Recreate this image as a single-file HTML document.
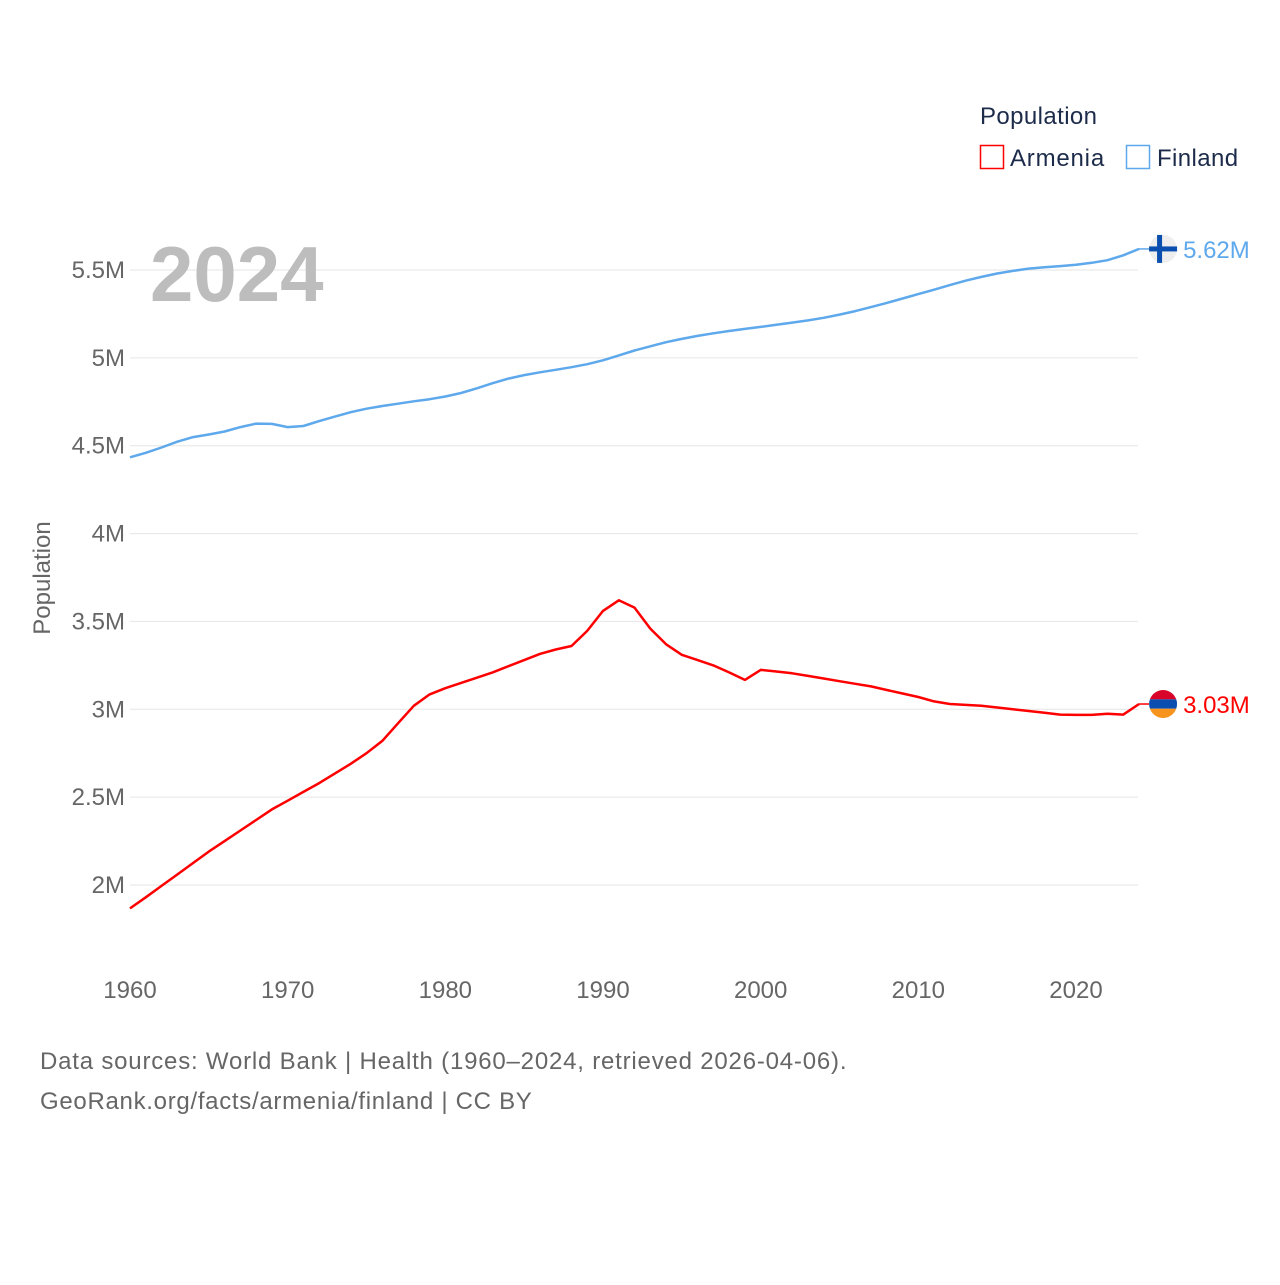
<!DOCTYPE html>
<html><head><meta charset="utf-8"><style>
html,body{margin:0;padding:0;background:#fff;}
svg text{font-family:"Liberation Sans",sans-serif;}
</style></head><body>
<svg id="chart" width="1280" height="1280" xmlns="http://www.w3.org/2000/svg">
<g id="grid"></g>
<g id="yticks"></g>
<g id="xticks"></g>
<text x="150" y="301" font-size="78" font-weight="bold" fill="#bdbdbd">2024</text>
<text transform="translate(50,578) rotate(-90)" text-anchor="middle" font-size="24" fill="#666">Population</text>
<g id="series"></g>
<g>
<text x="980" y="124" font-size="24" fill="#1c2b4a" letter-spacing="0.4">Population</text>
<rect x="980.5" y="145.5" width="23" height="23" fill="none" stroke="#ff0000" stroke-width="1.5"/>
<text x="1010" y="166" font-size="24" fill="#1c2b4a" letter-spacing="0.8">Armenia</text>
<rect x="1126.5" y="145.5" width="23" height="23" fill="none" stroke="#5ea8ec" stroke-width="1.5"/>
<text x="1157" y="166" font-size="24" fill="#1c2b4a" letter-spacing="0.4">Finland</text>
</g>
<text x="40" y="1069" font-size="24" fill="#666" letter-spacing="0.8">Data sources: World Bank | Health (1960–2024, retrieved 2026-04-06).</text>
<text x="40" y="1109" font-size="24" fill="#666" letter-spacing="0.7">GeoRank.org/facts/armenia/finland | CC BY</text>
</svg>
<script>
const years = [];
for (let y = 1960; y <= 2024; y++) years.push(y);
const armenia = [1.867,1.93,1.995,2.06,2.125,2.19,2.25,2.31,2.37,2.43,2.48,2.53,2.58,2.635,2.69,2.75,2.82,2.92,3.02,3.085,3.12,3.15,3.18,3.21,3.245,3.28,3.315,3.34,3.36,3.446,3.56,3.62,3.579,3.459,3.37,3.31,3.28,3.25,3.21,3.167,3.224,3.215,3.205,3.19,3.175,3.16,3.145,3.13,3.11,3.09,3.07,3.045,3.03,3.025,3.02,3.01,3.0,2.99,2.98,2.97,2.968,2.968,2.975,2.97,3.03];
const finland = [4.434,4.46,4.49,4.523,4.549,4.564,4.581,4.606,4.626,4.624,4.606,4.612,4.64,4.666,4.691,4.711,4.726,4.739,4.753,4.765,4.78,4.8,4.827,4.856,4.882,4.902,4.918,4.932,4.947,4.964,4.986,5.014,5.042,5.066,5.089,5.108,5.125,5.14,5.153,5.165,5.176,5.188,5.201,5.213,5.228,5.246,5.266,5.289,5.313,5.338,5.363,5.388,5.414,5.439,5.461,5.48,5.495,5.508,5.516,5.522,5.53,5.541,5.556,5.584,5.62];
const yTickValues = [2,2.5,3,3.5,4,4.5,5,5.5];
const yTickLabels = ["2M","2.5M","3M","3.5M","4M","4.5M","5M","5.5M"];
const xTickValues = [1960,1970,1980,1990,2000,2010,2020];
const endLabels = ["3.03M","5.62M"];

const NS = "http://www.w3.org/2000/svg";
const xScale = yr => 130 + (yr - 1960) * (946 / 60);
const yScale = v => 885 - (v - 2) * 175.71;
function mk(tag, attrs, parent) {
  const e = document.createElementNS(NS, tag);
  for (const k in attrs) e.setAttribute(k, attrs[k]);
  parent.appendChild(e);
  return e;
}
const grid = document.getElementById('grid');
const yt = document.getElementById('yticks');
yTickValues.forEach((v, i) => {
  const l = mk('line', {x1:130, x2:1138, y1:yScale(v), y2:yScale(v), stroke:'#e6e6e6', 'stroke-width':1}, grid);
  
  
  const t = mk('text', {x:125, y:yScale(v)+8, 'text-anchor':'end', 'font-size':24, fill:'#666'}, yt);
  t.textContent = yTickLabels[i];
  
  
});
const xt = document.getElementById('xticks');
xTickValues.forEach(v => {
  const t = mk('text', {x:xScale(v), y:998, 'text-anchor':'middle', 'font-size':24, fill:'#666'}, xt);
  t.textContent = String(v);
  
  
});
const sg = document.getElementById('series');
function drawSeries(vals, color, name, label) {
  const pts = vals.map((v, i) => xScale(years[i]).toFixed(1) + ',' + yScale(v).toFixed(1)).join(' ');
  const pl = mk('polyline', {points:pts, fill:'none', stroke:color, 'stroke-width':2.5, 'stroke-linejoin':'round'}, sg);
  
  
  const lastV = vals[vals.length - 1];
  const lx = xScale(years[years.length - 1]);
  const ly = yScale(lastV);
  const c = mk('line', {x1:lx, x2:lx+10, y1:ly, y2:ly, stroke:color, 'stroke-width':1.5}, sg);
  
  
  const g = mk('g', {}, sg);
  
  
  const cx = lx + 24, cy = ly, r = 14;
  if (name === 'finland') {
    mk('circle', {cx:cx, cy:cy, r:r, fill:'#eeeeee'}, g);
    mk('rect', {x:cx-r, y:cy-2.5, width:2*r, height:5, fill:'#0a4fb0'}, g);
    mk('rect', {x:cx-6, y:cy-r, width:5, height:2*r, fill:'#0a4fb0'}, g);
  } else {
    const cp = mk('clipPath', {id:'armclip'}, g);
    mk('circle', {cx:cx, cy:cy, r:r}, cp);
    const fg = mk('g', {'clip-path':'url(#armclip)'}, g);
    mk('rect', {x:cx-r, y:cy-r, width:2*r, height:28/3, fill:'#d90429'}, fg);
    mk('rect', {x:cx-r, y:cy-r+28/3, width:2*r, height:28/3, fill:'#0a4fb0'}, fg);
    mk('rect', {x:cx-r, y:cy-r+56/3, width:2*r, height:28/3, fill:'#f7941d'}, fg);
  }
  const t = mk('text', {x:cx+20, y:cy+9, 'font-size':24, fill:color}, sg);
  t.textContent = label;
  
  
}
drawSeries(finland, '#5ea8ec', 'finland', endLabels[1]);
drawSeries(armenia, '#ff0000', 'armenia', endLabels[0]);
</script>
</body></html>
